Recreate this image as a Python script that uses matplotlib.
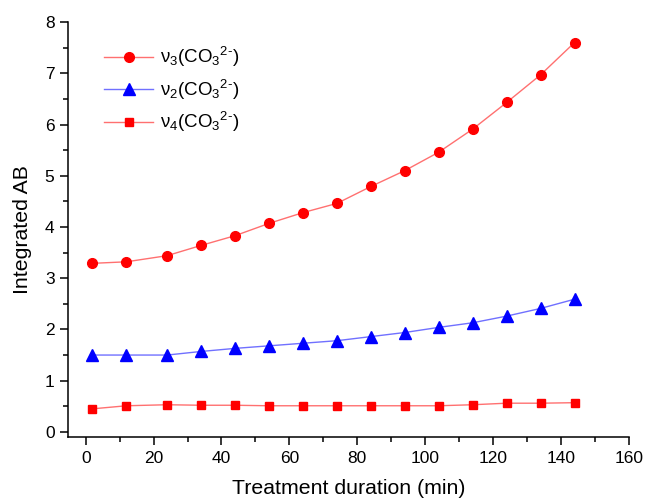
import matplotlib
matplotlib.use("Agg")
import matplotlib.pyplot as plt
from matplotlib.ticker import MultipleLocator

plt.rcParams['font.family'] = ['Liberation Sans', 'DejaVu Sans']
plt.rcParams['mathtext.fontset'] = 'custom'
plt.rcParams['mathtext.rm'] = 'Liberation Sans'
plt.rcParams['mathtext.it'] = 'Liberation Sans:italic'
plt.rcParams['mathtext.bf'] = 'Liberation Sans:bold'

duration = [2, 12, 24, 34, 44, 54, 64, 74, 84, 94, 104, 114, 124, 134, 144]
nu3 = [3.29, 3.32, 3.44, 3.64, 3.83, 4.07, 4.28, 4.46, 4.79, 5.10, 5.46, 5.91, 6.43, 6.97, 7.60]
nu2 = [1.50, 1.50, 1.50, 1.57, 1.63, 1.68, 1.73, 1.78, 1.86, 1.94, 2.04, 2.13, 2.26, 2.41, 2.59]
nu4 = [0.45, 0.51, 0.53, 0.52, 0.52, 0.51, 0.51, 0.51, 0.51, 0.51, 0.51, 0.53, 0.56, 0.56, 0.57]

labels = [r'ν$_3$(CO$_3$$^{2\text{-}}$)', r'ν$_2$(CO$_3$$^{2\text{-}}$)', r'ν$_4$(CO$_3$$^{2\text{-}}$)']

fig = plt.figure(figsize=(6.51, 5.01), dpi=100)
ax = fig.add_axes([0.104, 0.127, 0.862, 0.829])

ax.plot(duration, nu3, color='#ff7070', lw=1.0, marker='o', ms=7,
        mfc='red', mec='red', label=labels[0])
ax.plot(duration, nu2, color='#7070ff', lw=1.0, marker='^', ms=8,
        mfc='blue', mec='blue', label=labels[1])
ax.plot(duration, nu4, color='#ff7070', lw=1.0, marker='s', ms=6,
        mfc='red', mec='red', label=labels[2])

ax.set_xlim(-5.3, 160)
ax.set_ylim(-0.107, 8)
ax.xaxis.set_major_locator(MultipleLocator(20))
ax.xaxis.set_minor_locator(MultipleLocator(10))
ax.yaxis.set_major_locator(MultipleLocator(1))
ax.yaxis.set_minor_locator(MultipleLocator(0.5))

for s in ['top', 'right']:
    ax.spines[s].set_visible(False)
for s in ['left', 'bottom']:
    ax.spines[s].set_linewidth(1.1)

ax.tick_params(which='major', direction='out', length=6, width=1.1, labelsize=12.5)
ax.tick_params(which='minor', direction='out', length=3.5, width=1.1)

ax.set_xlabel('Treatment duration (min)', fontsize=15.3, labelpad=10)
ax.set_ylabel('Integrated AB', fontsize=15.3, labelpad=9)

ax.legend(loc='upper left', bbox_to_anchor=(0.035, 0.985), frameon=False,
          fontsize=13.5, handlelength=2.6, labelspacing=0.45, handletextpad=0.4)

fig.savefig('out.png', dpi=100)
